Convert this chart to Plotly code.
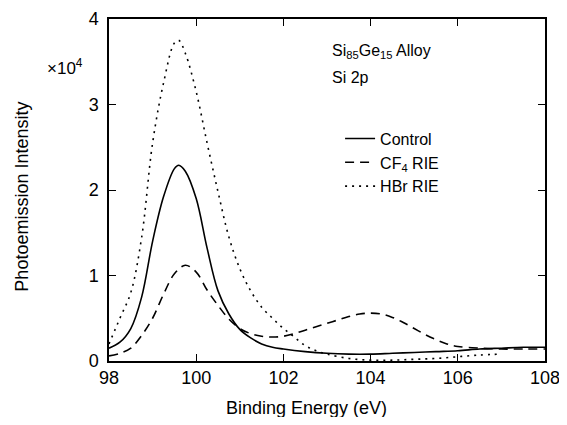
import plotly.graph_objects as go

energy_control = [98.0, 98.25, 98.5, 98.75, 99.0, 99.25, 99.5, 99.6, 99.75, 100.0, 100.25, 100.5, 100.75,
                  101.0, 101.25, 101.5, 101.75, 102.0, 102.5, 103.0, 103.5, 104.0, 104.5, 105.0, 105.5,
                  106.0, 106.5, 107.0, 107.5, 108.0]
control = [0.15, 0.22, 0.38, 0.75, 1.4, 1.92, 2.25, 2.29, 2.22, 1.9, 1.32, 0.82, 0.55,
           0.37, 0.27, 0.2, 0.16, 0.14, 0.11, 0.09, 0.08, 0.08, 0.09, 0.1, 0.11,
           0.12, 0.14, 0.15, 0.16, 0.16]

energy_cf4 = [98.0, 98.25, 98.5, 98.75, 99.0, 99.25, 99.5, 99.75, 100.0, 100.25, 100.5, 100.75,
              101.0, 101.25, 101.5, 101.75, 102.0, 102.25, 102.5, 102.75, 103.0, 103.25, 103.5,
              103.75, 104.0, 104.25, 104.5, 104.75, 105.0, 105.25, 105.5, 105.75, 106.0, 106.5,
              107.0, 107.5, 108.0]
cf4 = [0.06, 0.09, 0.15, 0.3, 0.5, 0.78, 1.02, 1.12, 1.04, 0.83, 0.65, 0.49,
       0.38, 0.32, 0.29, 0.28, 0.29, 0.32, 0.36, 0.40, 0.44, 0.48, 0.52,
       0.55, 0.56, 0.55, 0.51, 0.45, 0.38, 0.31, 0.25, 0.2, 0.17, 0.15,
       0.14, 0.14, 0.14]

energy_hbr = [98.0, 98.25, 98.5, 98.75, 99.0, 99.25, 99.5, 99.6, 99.75, 100.0, 100.25, 100.5, 100.75,
              101.0, 101.25, 101.5, 101.75, 102.0, 102.25, 102.5, 102.75, 103.0, 103.5, 104.0,
              104.5, 105.0, 105.5, 106.0, 106.5, 107.0]
hbr = [0.2, 0.5, 0.8, 1.45, 2.55, 3.25, 3.72, 3.75, 3.6, 3.15, 2.55, 1.98, 1.45,
       1.08, 0.82, 0.63, 0.5, 0.38, 0.28, 0.18, 0.12, 0.08, 0.03, 0.01,
       0.01, 0.02, 0.03, 0.05, 0.07, 0.08]

x_ticks = [98, 100, 102, 104, 106, 108]
y_ticks = [0, 1, 2, 3, 4]

FONT = "Liberation Sans, Arial, sans-serif"

fig = go.Figure()
fig.add_trace(go.Scatter(x=energy_control, y=control, mode="lines", name="Control",
                         line=dict(color="black", width=1.6, shape="spline")))
fig.add_trace(go.Scatter(x=energy_cf4, y=cf4, mode="lines", name="CF<sub>4</sub> RIE",
                         line=dict(color="black", width=1.6, dash="9px,6px", shape="spline")))
fig.add_trace(go.Scatter(x=energy_hbr, y=hbr, mode="lines", name="HBr RIE",
                         line=dict(color="black", width=1.6, dash="2px,5px", shape="spline")))

# page body has an 8px default margin; figure sized so it fits the 567x425 window
fig.update_layout(
    width=559, height=409,
    paper_bgcolor="white", plot_bgcolor="white",
    margin=dict(l=101, r=22, t=11, b=56, autoexpand=False),
    font=dict(family=FONT, size=18, color="black"),
    showlegend=True,
    legend=dict(x=0.53, y=0.70, xanchor="left", yanchor="top", itemwidth=30,
                bgcolor="rgba(0,0,0,0)", font=dict(size=16), tracegroupgap=0),
    xaxis=dict(range=[98, 108], tickvals=x_ticks, ticks="inside", ticklen=7,
               showline=True, linecolor="black", linewidth=1.5, mirror="ticks",
               showgrid=False, zeroline=False, tickcolor="black", automargin=False,
               ticklabeloverflow="allow"),
    yaxis=dict(range=[0, 4], tickvals=y_ticks, ticks="inside", ticklen=7,
               showline=True, linecolor="black", linewidth=1.5, mirror="ticks",
               showgrid=False, zeroline=False, tickcolor="black", automargin=False,
               ticklabeloverflow="allow", ticklabelstandoff=5),
    annotations=[
        dict(text="Binding Energy (eV)", xref="paper", yref="paper", x=0.452, y=-0.136,
             xanchor="center", yanchor="middle", showarrow=False, font=dict(size=18)),
        dict(text="Photoemission Intensity", xref="paper", yref="paper", x=-0.2, y=0.48,
             textangle=-90, xanchor="center", yanchor="middle", showarrow=False, font=dict(size=18)),
        dict(text="×10<sup>4</sup>", xref="paper", yref="paper", x=-0.055, y=0.86,
             xanchor="right", yanchor="middle", showarrow=False, font=dict(size=17)),
        dict(text="Si<sub>85</sub>Ge<sub>15</sub> Alloy", xref="paper", yref="paper",
             x=0.507, y=0.905, xanchor="left", yanchor="middle", showarrow=False, font=dict(size=16)),
        dict(text="Si 2p", xref="paper", yref="paper",
             x=0.507, y=0.83, xanchor="left", yanchor="middle", showarrow=False, font=dict(size=16)),
    ],
)

fig.write_html("out.html")
